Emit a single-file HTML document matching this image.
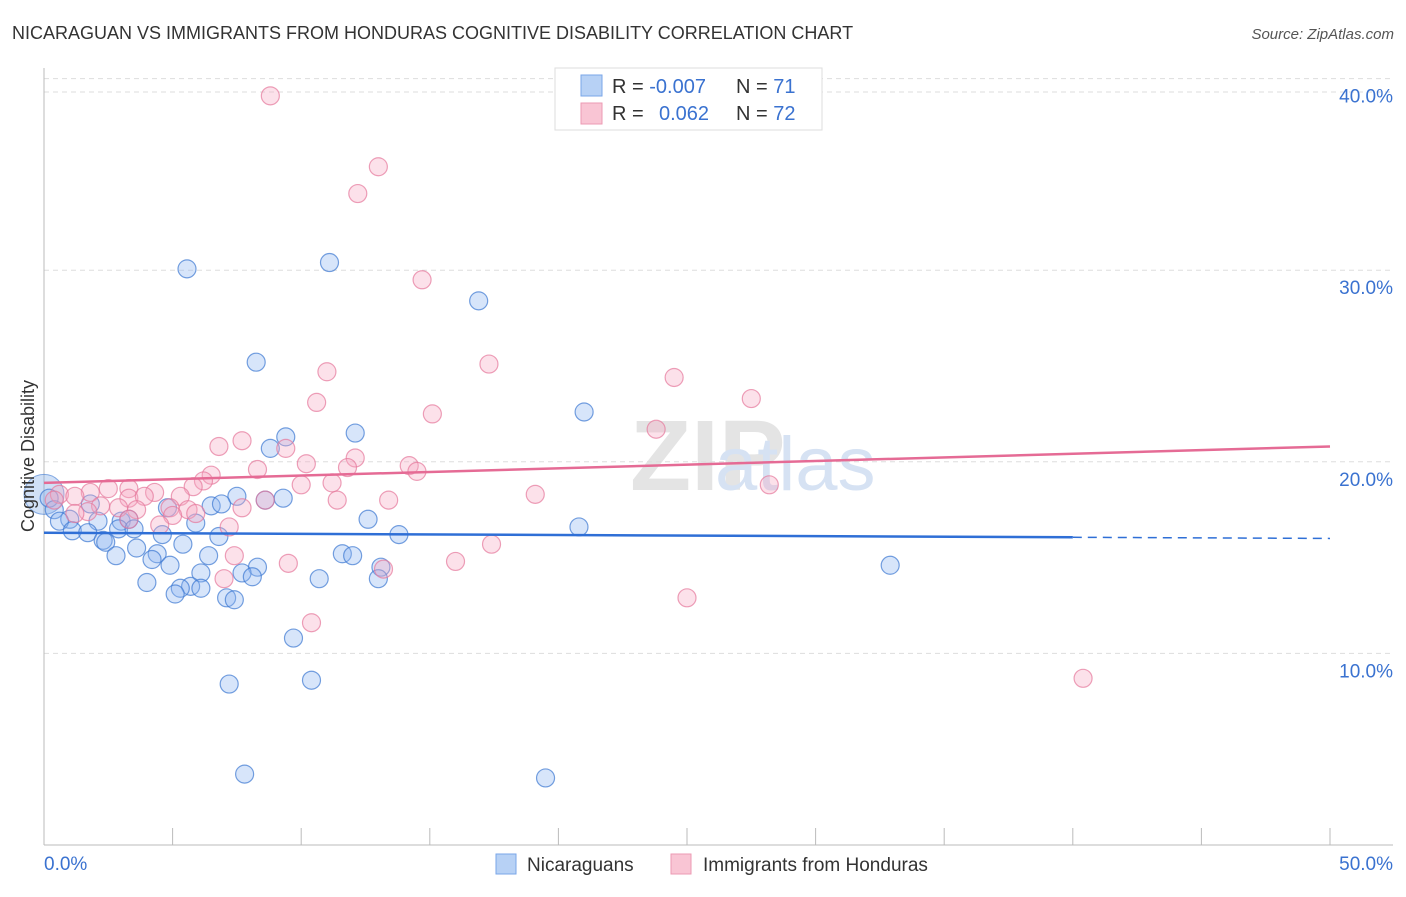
<!DOCTYPE html>
<html><head><meta charset="utf-8"><style>
body{margin:0;background:#fff;font-family:"Liberation Sans",sans-serif;}
svg text{font-family:"Liberation Sans",sans-serif;}
</style></head><body>
<svg width="1406" height="892">
<text x="12" y="39" font-size="18" fill="#333">NICARAGUAN VS IMMIGRANTS FROM HONDURAS COGNITIVE DISABILITY CORRELATION CHART</text>
<text x="1394" y="39" font-size="15" fill="#555" font-style="italic" text-anchor="end">Source: ZipAtlas.com</text>
<text x="630" y="490" font-size="100" fill="#e4e4e4" font-family="Liberation Serif" font-weight="bold">ZIP</text>
<text x="715" y="490" font-size="76" fill="#d6e2f3">atlas</text>
<g id="grid"></g><g id="axes"></g><g id="marks"></g><g id="lines"></g>
<text transform="translate(34,456) rotate(-90)" font-size="18" fill="#333" text-anchor="middle">Cognitive Disability</text>
<g>
<rect x="555" y="68" width="267" height="62" fill="#fff" stroke="#ddd"/>
<rect x="581" y="75" width="21" height="21" fill="#b7d1f5" stroke="#7aa6e8"/>
<rect x="581" y="103" width="21" height="21" fill="#f9c5d4" stroke="#ec9ab3"/>
<text x="612" y="93" font-size="20" fill="#333">R = <tspan fill="#3a72d0">-0.007</tspan><tspan x="736">N = </tspan><tspan fill="#3a72d0">71</tspan></text>
<text x="612" y="120" font-size="20" fill="#333">R = <tspan x="659" fill="#3a72d0">0.062</tspan><tspan x="736">N = </tspan><tspan fill="#3a72d0">72</tspan></text>
</g>
<g>
<rect x="496" y="854" width="20" height="20" fill="#b7d1f5" stroke="#7aa6e8"/>
<text x="527" y="871" font-size="19" fill="#333">Nicaraguans</text>
<rect x="671" y="854" width="20" height="20" fill="#f9c5d4" stroke="#ec9ab3"/>
<text x="703" y="871" font-size="19" fill="#333">Immigrants from Honduras</text>
</g>
</svg>
<script>
const xTicks=[0,5,10,15,20,25,30,35,40,45,50];
const yTicks=[10,20,30,40];
const yTickLabels=["10.0%","20.0%","30.0%","40.0%"];
const xEndLabels=["0.0%","50.0%"];
const blueX=[5.56,11.1,16.9,8.25,21.0,12.1,9.4,8.8,7.5,9.3,8.6,6.5,6.9,4.8,1.8,0.2,0.4,1.0,0.6,2.1,3.0,3.3,1.1,1.7,2.9,3.5,5.9,4.6,6.8,2.3,2.4,5.4,12.6,13.8,20.8,3.6,2.8,4.4,4.2,6.4,11.6,12.0,4.9,8.3,13.1,7.7,6.1,8.1,10.7,13.0,4.0,5.7,5.3,6.1,5.1,7.1,7.4,9.7,32.9,7.2,10.4,7.8,19.5];
const blueY=[30.07,30.4,28.4,25.2,22.6,21.5,21.3,20.7,18.2,18.1,18.0,17.7,17.8,17.6,17.8,18.1,17.5,17.0,16.9,16.9,16.9,17.0,16.4,16.3,16.5,16.5,16.8,16.2,16.1,15.9,15.8,15.7,17.0,16.2,16.6,15.5,15.1,15.2,14.9,15.1,15.2,15.1,14.6,14.5,14.5,14.2,14.2,14.0,13.9,13.9,13.7,13.5,13.4,13.4,13.1,12.9,12.8,10.8,14.6,8.4,8.6,3.7,3.5];
const pinkX=[8.8,13.0,12.2,14.7,17.3,24.5,11.0,10.6,27.5,15.1,23.8,7.7,6.8,9.4,12.1,10.2,14.2,11.8,14.5,8.3,6.5,6.2,11.2,10.0,5.8,2.5,3.3,4.3,5.3,1.8,0.6,1.2,0.4,19.1,28.2,8.6,11.4,13.4,3.3,3.9,2.2,2.9,3.6,4.9,5.6,7.7,5.9,5.0,1.7,1.2,4.5,7.2,3.3,17.4,7.4,9.5,16.0,13.2,7.0,25.0,10.4,40.4];
const pinkY=[39.1,35.4,34.0,29.5,25.1,24.4,24.7,23.1,23.3,22.5,21.7,21.1,20.8,20.7,20.2,19.9,19.8,19.7,19.5,19.6,19.3,19.0,18.9,18.8,18.7,18.6,18.6,18.4,18.2,18.4,18.3,18.2,18.0,18.3,18.8,18.0,18.0,18.0,18.1,18.2,17.7,17.6,17.5,17.6,17.5,17.6,17.3,17.2,17.4,17.3,16.7,16.6,17.0,15.7,15.1,14.7,14.8,14.4,13.9,12.9,11.6,8.7];
const blueTrend=[16.3,16.0];
const pinkTrend=[18.9,20.8];
const X=v=>44+v/50*1286;
const Y=v=>845-v*19.16;
const NS="http://www.w3.org/2000/svg";
function mk(parent,tag,attrs){const e=document.createElementNS(NS,tag);for(const k in attrs)e.setAttribute(k,attrs[k]);document.getElementById(parent).appendChild(e);return e;}
yTicks.forEach((t,i)=>{
 const l=mk('grid','line',{x1:44,x2:1393,y1:Y(t),y2:Y(t),stroke:'#ddd','stroke-dasharray':'5,4'});
 
 
 const tx=mk('axes','text',{x:1393,y:Y(t)+24,'font-size':19,fill:'#3a72d0','text-anchor':'end'});
 tx.textContent=yTickLabels[i];
 
 
});
mk('grid','line',{x1:44,x2:1393,y1:Y(39.3)-0,y2:Y(39.3),stroke:'#ddd','stroke-dasharray':'5,4'});
let a=mk('axes','line',{x1:44,x2:44,y1:68,y2:845,stroke:'#bbb'});


a=mk('axes','line',{x1:44,x2:1393,y1:845,y2:845,stroke:'#bbb'});


xTicks.forEach(t=>{const l=mk('axes','line',{x1:X(t),x2:X(t),y1:828,y2:845,stroke:'#bbb'});
 
 });
let t0=mk('axes','text',{x:44,y:870,'font-size':19,fill:'#3a72d0'});t0.textContent=xEndLabels[0];


let t1=mk('axes','text',{x:1393,y:870,'font-size':19,fill:'#3a72d0','text-anchor':'end'});t1.textContent=xEndLabels[1];


let big=mk('marks','circle',{cx:X(0),cy:Y(18.3),r:20,fill:'rgba(120,165,230,0.35)',stroke:'rgba(60,120,210,0.6)'});


blueX.forEach((x,i)=>{const c=mk('marks','circle',{cx:X(x),cy:Y(blueY[i]),r:9,fill:'rgba(140,180,240,0.35)',stroke:'rgba(60,120,210,0.7)','stroke-width':1.2});
 
 });
pinkX.forEach((x,i)=>{const c=mk('marks','circle',{cx:X(x),cy:Y(pinkY[i]),r:9,fill:'rgba(245,170,195,0.35)',stroke:'rgba(230,120,155,0.7)','stroke-width':1.2});
 
 });
const by=x=>blueTrend[0]+(blueTrend[1]-blueTrend[0])*x/50;
let bl=mk('lines','line',{x1:X(0),y1:Y(by(0)),x2:X(40),y2:Y(by(40)),stroke:'#2f6fd6','stroke-width':2.5});


let bd=mk('lines','line',{x1:X(40),y1:Y(by(40)),x2:X(50),y2:Y(by(50)),stroke:'#2f6fd6','stroke-width':1.5,'stroke-dasharray':'9,6'});


let pl=mk('lines','line',{x1:X(0),y1:Y(pinkTrend[0]),x2:X(50),y2:Y(pinkTrend[1]),stroke:'#e56b95','stroke-width':2.5});


</script>
</body></html>
